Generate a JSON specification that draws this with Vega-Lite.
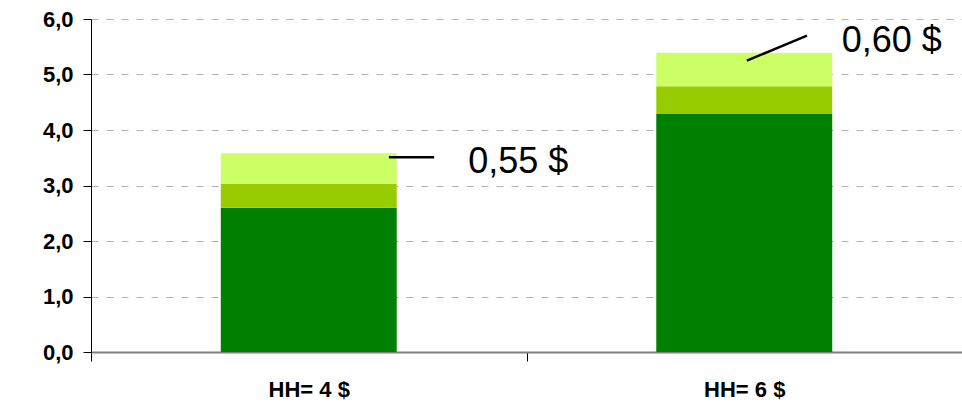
{
  "$schema": "https://vega.github.io/schema/vega-lite/v6.json",
  "width": 871,
  "height": 333,
  "autosize": "none",
  "padding": {"left": 91, "top": 19, "right": 0, "bottom": 55},
  "config": {
    "view": {"stroke": null},
    "font": "Liberation Sans"
  },
  "layer": [
    {
      "data": {
        "values": [
          {"hh": "HH= 4 $", "part": "base", "k": 1, "v": 2.6},
          {"hh": "HH= 4 $", "part": "middle", "k": 2, "v": 0.43},
          {"hh": "HH= 4 $", "part": "top", "k": 3, "v": 0.55},
          {"hh": "HH= 6 $", "part": "base", "k": 1, "v": 4.29},
          {"hh": "HH= 6 $", "part": "middle", "k": 2, "v": 0.5},
          {"hh": "HH= 6 $", "part": "top", "k": 3, "v": 0.6}
        ]
      },
      "mark": {"type": "bar", "width": {"band": 0.404}},
      "encoding": {
        "x": {
          "field": "hh",
          "type": "nominal",
          "sort": null,
          "scale": {"paddingInner": 0, "paddingOuter": 0},
          "axis": {
            "title": null,
            "labelAngle": 0,
            "tickBand": "extent",
            "tickSize": 9,
            "tickColor": "#000000",
            "domainColor": "#7f7f7f",
            "domainWidth": 2,
            "labelFont": "Liberation Sans",
            "labelFontWeight": "bold",
            "labelFontSize": 22,
            "labelColor": "#000000",
            "labelPadding": 18,
            "grid": false
          }
        },
        "y": {
          "field": "v",
          "type": "quantitative",
          "stack": "zero",
          "scale": {"domain": [0, 6], "nice": false},
          "axis": {
            "title": null,
            "values": [0, 1, 2, 3, 4, 5, 6],
            "labelExpr": "replace(format(datum.value, '.1f'), '.', ',')",
            "labelFont": "Liberation Sans",
            "labelFontWeight": "bold",
            "labelFontSize": 22,
            "labelColor": "#000000",
            "labelPadding": 10,
            "tickSize": 8,
            "tickColor": "#000000",
            "domainColor": "#000000",
            "grid": true,
            "gridColor": "#b3b3b3",
            "gridDash": [7, 8],
            "gridWidth": 1
          }
        },
        "color": {
          "field": "part",
          "type": "nominal",
          "scale": {"domain": ["base", "middle", "top"], "range": ["#008000", "#99cc00", "#ccff66"]},
          "legend": null
        },
        "order": {"field": "k", "type": "quantitative"}
      }
    },
    {
      "data": {
        "values": [
          {"x": 0.684, "y": 3.51, "x2": 0.788, "y2": 3.51},
          {"x": 1.506, "y": 5.25, "x2": 1.644, "y2": 5.7}
        ]
      },
      "mark": {"type": "rule", "color": "#000000", "strokeWidth": 2.5},
      "encoding": {
        "x": {"field": "x", "type": "quantitative", "scale": {"domain": [0, 2], "nice": false}, "axis": null},
        "x2": {"field": "x2"},
        "y": {"field": "y", "type": "quantitative"},
        "y2": {"field": "y2"}
      }
    },
    {
      "data": {
        "values": [
          {"x": 0.866, "y": 3.225, "note": "0,55 $"},
          {"x": 1.724, "y": 5.405, "note": "0,60 $"}
        ]
      },
      "mark": {"type": "text", "align": "left", "baseline": "alphabetic", "fontSize": 36, "font": "Liberation Sans", "color": "#000000"},
      "encoding": {
        "x": {"field": "x", "type": "quantitative", "scale": {"domain": [0, 2], "nice": false}, "axis": null},
        "y": {"field": "y", "type": "quantitative"},
        "text": {"field": "note"}
      }
    }
  ],
  "resolve": {"scale": {"x": "independent"}}
}
